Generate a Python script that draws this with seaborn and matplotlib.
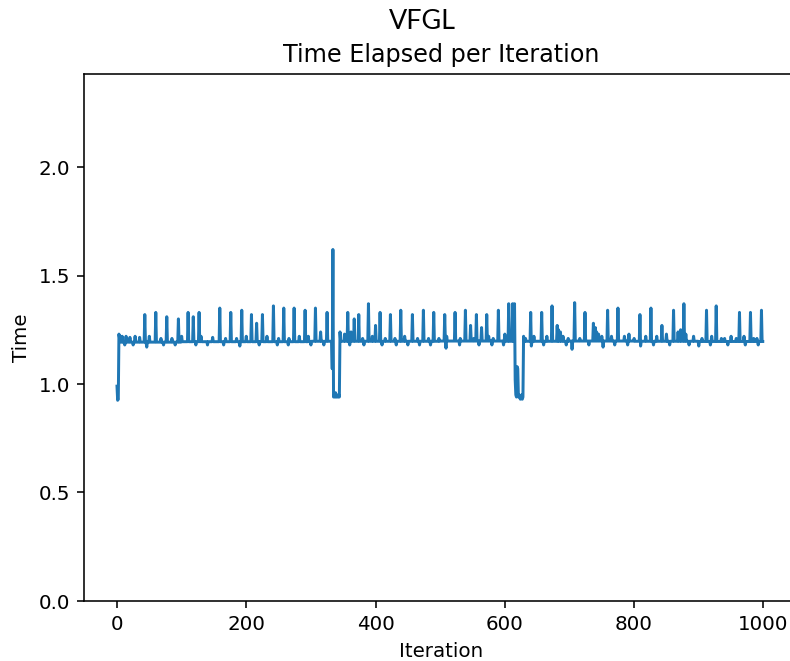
import numpy as np
import pandas as pd
import matplotlib
matplotlib.use("Agg")
import matplotlib.pyplot as plt
import seaborn as sns

# ---- data ----
n_iter = 1000
block_size = 100
baseline_levels = [1.193, 1.195, 1.195, 1.197, 1.197, 1.198, 1.197, 1.198, 1.197, 1.196]

start_iters = [0, 1, 2, 3, 4, 5]
start_vals = [0.99, 0.925, 0.93, 1.23, 1.21, 1.22]

spike_iters = [43, 60, 77, 95, 110, 118, 127, 159, 176, 193, 208, 216, 225, 242,
               258, 274, 291, 307, 315, 325, 357, 367, 374, 389, 400, 407, 423,
               439, 457, 474, 490, 507, 523, 539, 547, 556, 564, 572, 590, 606,
               612, 640, 657, 673, 681, 708, 724, 737, 759, 775, 792, 809, 826,
               843, 861, 877, 912, 927, 963, 980, 997]
spike_vals = [1.32, 1.33, 1.31, 1.30, 1.33, 1.31, 1.33, 1.35, 1.33, 1.34, 1.32, 1.28, 1.32, 1.36,
              1.35, 1.35, 1.34, 1.35, 1.24, 1.33, 1.33, 1.30, 1.32, 1.37, 1.27, 1.33, 1.32,
              1.34, 1.32, 1.34, 1.33, 1.32, 1.33, 1.34, 1.27, 1.32, 1.26, 1.32, 1.34, 1.37,
              1.37, 1.33, 1.33, 1.36, 1.27, 1.375, 1.33, 1.28, 1.34, 1.35, 1.23, 1.32, 1.35,
              1.27, 1.34, 1.37, 1.34, 1.36, 1.33, 1.33, 1.34]

bump_iters = [8, 14, 20, 28, 35, 50, 68, 85, 100, 130, 148, 168, 185, 200, 232, 250, 266,
              282, 296, 352, 362, 380, 395, 415, 430, 445, 465, 482, 498, 510, 531, 552,
              575, 582, 600, 632, 645, 665, 683, 686, 690, 698, 716, 730, 740, 742, 745,
              750, 765, 785, 800, 818, 835, 850, 868, 872, 880, 892, 905, 920, 935, 940,
              950, 958, 970, 985, 990]
bump_vals = [1.22, 1.22, 1.215, 1.22, 1.215, 1.22, 1.21, 1.21, 1.22, 1.22, 1.215, 1.21, 1.21,
             1.22, 1.22, 1.21, 1.21, 1.22, 1.22, 1.23, 1.24, 1.21, 1.22, 1.21, 1.21, 1.22,
             1.21, 1.21, 1.21, 1.22, 1.21, 1.21, 1.22, 1.21, 1.23, 1.21, 1.22, 1.22, 1.25,
             1.24, 1.22, 1.21, 1.21, 1.21, 1.26, 1.24, 1.23, 1.22, 1.22, 1.22, 1.21, 1.22,
             1.22, 1.23, 1.24, 1.25, 1.23, 1.22, 1.21, 1.22, 1.21, 1.21, 1.22, 1.21, 1.22,
             1.21, 1.21]

low_iters = [12, 25, 46, 72, 90, 122, 140, 165, 190, 220, 248, 265, 300, 320, 360, 382,
             410, 432, 450, 468, 485, 509, 530, 560, 580, 598, 641, 660, 695, 704, 730,
             752, 770, 790, 810, 830, 855, 885, 900, 918, 945, 972, 992]
low_vals = [1.18, 1.18, 1.17, 1.18, 1.18, 1.18, 1.18, 1.18, 1.175, 1.18, 1.18, 1.18, 1.18,
            1.18, 1.18, 1.18, 1.18, 1.18, 1.18, 1.18, 1.18, 1.165, 1.18, 1.18, 1.18, 1.18,
            1.175, 1.18, 1.18, 1.16, 1.18, 1.17, 1.18, 1.18, 1.175, 1.18, 1.18, 1.18, 1.175,
            1.18, 1.18, 1.18, 1.18]

dip1_iters = [333, 334, 335, 336, 337, 338, 339, 340, 341, 342, 343, 344, 345]
dip1_vals = [1.07, 1.62, 0.94, 0.95, 0.94, 0.96, 0.94, 0.95, 0.94, 0.94, 0.95, 0.94, 1.24]

dip2_iters = [615, 616, 617, 618, 619, 620, 621, 622, 623, 624, 625, 626, 627, 628, 629]
dip2_vals = [1.37, 1.02, 0.95, 0.94, 1.08, 1.07, 0.94, 0.95, 0.94, 0.93, 0.94, 0.95, 0.93, 0.94, 1.22]

# ---- assemble the series ----
iteration = np.arange(n_iter)
time_vals = np.array([baseline_levels[i // block_size] for i in iteration], dtype=float)
for its, vs in [(start_iters, start_vals), (bump_iters, bump_vals), (low_iters, low_vals),
                (spike_iters, spike_vals), (dip1_iters, dip1_vals), (dip2_iters, dip2_vals)]:
    for i, v in zip(its, vs):
        time_vals[i] = v

df = pd.DataFrame({"Iteration": iteration, "Time": time_vals})

# ---- draw ----
DPI = 143
fig = plt.figure(figsize=(790.3 / DPI, 661.3 / DPI), dpi=DPI)
ax = fig.add_axes([84 / 790, 60 / 661, 714 / 790, 527 / 661])
sns.lineplot(data=df, x="Iteration", y="Time", ax=ax, color="#1f77b4",
             linewidth=1.5, estimator=None)
ax.set_xlim(-51, 1054)
ax.set_ylim(0, 2.43)
ax.spines["right"].set_visible(False)
ax.set_yticks([0.0, 0.5, 1.0, 1.5, 2.0])
ax.set_xticks([0, 200, 400, 600, 800, 1000])
ax.set_title("Time Elapsed per Iteration", fontsize=12)
ax.set_xlabel("Iteration")
ax.set_ylabel("Time")
fig.text(422 / 790, 1 - 21 / 661, "VFGL", ha="center", va="center",
         fontsize=13.5, family=["Lato", "DejaVu Sans"])

fig.savefig("out.png", dpi=DPI)
